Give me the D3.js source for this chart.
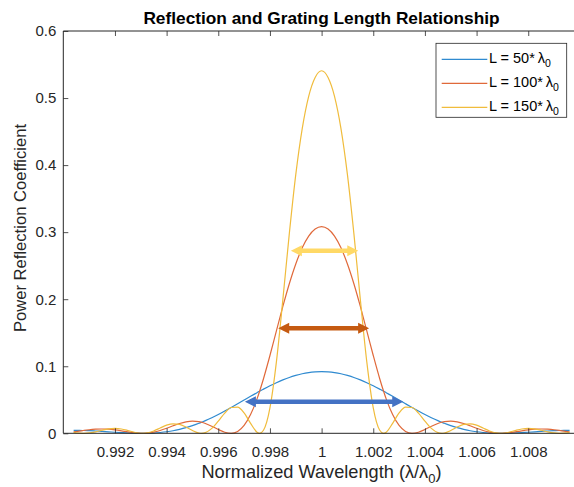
<!DOCTYPE html>
<html><head><meta charset="utf-8">
<script src="https://cdn.jsdelivr.net/npm/d3@7"></script>
<style>
body{margin:0;background:#fff}
text{font-family:"Liberation Sans",Arial,Helvetica,sans-serif;}
</style>
</head><body><svg id="c" width="574" height="487"></svg>
<script>
// ---------- data ----------
const wavelength = [0.9904,0.9905,0.99075,0.9908,0.991,0.99125,0.9915,0.99175,0.992,0.99225,0.9925,0.99275,0.993,0.9931,0.99325,0.9935,0.99375,0.994,0.99425,0.9945,0.99475,0.995,0.99525,0.99535,0.9955,0.99575,0.996,0.99625,0.9965,0.99675,0.997,0.99725,0.9975,0.9976,0.99775,0.998,0.99825,0.9985,0.99875,0.999,0.99925,0.9995,0.99975,1,
1.00025,1.0005,1.00075,1.001,1.00125,1.0015,1.00175,1.002,1.00225,1.0024,1.0025,1.00275,1.003,1.00325,1.0035,1.00375,1.004,1.00425,1.0045,1.00465,1.00475,1.005,1.00525,1.0055,1.00575,1.006,1.00625,1.0065,1.00675,1.0069,1.007,1.00725,1.0075,1.00775,1.008,1.00825,1.0085,1.00875,1.009,1.0092,1.00925,1.0095,1.0096];

const r50 = [0.0045,0.0045,0.0042,0.0042,0.0039,0.0034,0.0028,0.0022,0.0016,0.0011,0.0006,0.0002,0.0000,0.0000,0.0001,0.0004,0.0012,0.0023,0.0038,0.0059,0.0084,0.0114,0.0149,0.0165,0.0189,0.0233,0.0281,0.0332,0.0385,0.0440,0.0496,0.0552,0.0606,0.0628,0.0659,0.0709,0.0755,0.0796,0.0833,0.0863,0.0888,0.0905,0.0915,0.0919,
0.0915,0.0905,0.0888,0.0863,0.0833,0.0796,0.0755,0.0709,0.0659,0.0628,0.0606,0.0552,0.0496,0.0440,0.0385,0.0332,0.0281,0.0233,0.0189,0.0165,0.0149,0.0114,0.0084,0.0059,0.0038,0.0023,0.0012,0.0004,0.0001,0.0000,0.0000,0.0002,0.0006,0.0011,0.0016,0.0022,0.0028,0.0034,0.0039,0.0042,0.0042,0.0045,0.0045];

const r100 = [0.0021,0.0027,0.0040,0.0043,0.0053,0.0061,0.0064,0.0061,0.0051,0.0037,0.0021,0.0008,0.0000,0.0000,0.0003,0.0017,0.0042,0.0075,0.0112,0.0146,0.0171,0.0182,0.0174,0.0165,0.0147,0.0105,0.0057,0.0016,0.0000,0.0028,0.0117,0.0279,0.0514,0.0627,0.0814,0.1160,0.1527,0.1892,0.2231,0.2526,0.2766,0.2941,0.3047,0.3083,
0.3047,0.2941,0.2766,0.2526,0.2231,0.1892,0.1527,0.1160,0.0814,0.0627,0.0514,0.0279,0.0117,0.0028,0.0000,0.0016,0.0057,0.0105,0.0147,0.0165,0.0174,0.0182,0.0171,0.0146,0.0112,0.0075,0.0042,0.0017,0.0003,0.0000,0.0000,0.0008,0.0021,0.0037,0.0051,0.0061,0.0064,0.0061,0.0053,0.0043,0.0040,0.0027,0.0021];

const r150 = [0.0013,0.0007,0.0000,0.0000,0.0005,0.0022,0.0046,0.0066,0.0073,0.0064,0.0042,0.0016,0.0001,0.0000,0.0006,0.0035,0.0079,0.0121,0.0142,0.0133,0.0094,0.0042,0.0004,0.0000,0.0010,0.0073,0.0183,0.0302,0.0385,0.0391,0.0303,0.0149,0.0017,0.0000,0.0046,0.0380,0.1065,0.1993,0.2978,0.3858,0.4545,0.5026,0.5307,0.5407,
0.5307,0.5026,0.4545,0.3858,0.2978,0.1993,0.1065,0.0380,0.0046,0.0000,0.0017,0.0149,0.0303,0.0391,0.0385,0.0302,0.0183,0.0073,0.0010,0.0000,0.0004,0.0042,0.0094,0.0133,0.0142,0.0121,0.0079,0.0035,0.0006,0.0000,0.0001,0.0016,0.0042,0.0064,0.0073,0.0066,0.0046,0.0022,0.0005,0.0000,0.0000,0.0007,0.0013];

const seriesLengths = ["50", "100", "150"];
const xTicks = [0.992, 0.994, 0.996, 0.998, 1, 1.002, 1.004, 1.006, 1.008];
const xTickLabels = ["0.992","0.994","0.996","0.998","1","1.002","1.004","1.006","1.008"];
const yTicks = [0, 0.1, 0.2, 0.3, 0.4, 0.5, 0.6];
const yTickLabels = ["0","0.1","0.2","0.3","0.4","0.5","0.6"];

// FWHM annotation arrows (data coords)
const arrowLevel = [0.2723, 0.1566, 0.0471];
const arrowStart = [0.99881, 0.99832, 0.99703];
const arrowEnd   = [1.00142, 1.00184, 1.00316];

// ---------- styles ----------
const lineColors = ["#2F8AD0", "#E0693A", "#F0BC3C"];
const arrowColors = ["#FFD966", "#C55A11", "#4472C4"];
const axisColor = "#262626";

const svg = d3.select("#c");
const L = 63.3, R = 579.9, T = 31, B = 433.3;
const x = d3.scaleLinear().domain([0.99, 1.01]).range([L, R]);
const y = d3.scaleLinear().domain([0, 0.6]).range([B, T]);

// curves
const series = [r50, r100, r150];
const line = d3.line().x(d => x(d[0])).y(d => y(d[1])).curve(d3.curveMonotoneX);
series.forEach((s, i) => {
  svg.append("path")
    .datum(wavelength.map((w, j) => [w, s[j]]))
    .attr("d", line)
    .attr("fill", "none")
    .attr("stroke", lineColors[i])
    .attr("stroke-width", 1.2);
});

// axes
const gx = svg.append("g").attr("transform", `translate(0,${B})`)
  .call(d3.axisBottom(x).tickValues(xTicks).tickFormat((d, i) => xTickLabels[i]).tickSizeInner(-5).tickSizeOuter(0).tickPadding(13));
const gxt = svg.append("g").attr("transform", `translate(0,${T})`)
  .call(d3.axisTop(x).tickValues(xTicks).tickFormat("").tickSizeInner(-5).tickSizeOuter(0));
const gy = svg.append("g").attr("transform", `translate(${L},0)`)
  .call(d3.axisLeft(y).tickValues(yTicks).tickFormat((d, i) => yTickLabels[i]).tickSizeInner(-5).tickSizeOuter(0).tickPadding(7));
[gx, gxt, gy].forEach(g => {
  g.select(".domain").remove();
  g.selectAll(".tick line").attr("stroke", axisColor).attr("stroke-width", 0.8);
  g.selectAll(".tick text").attr("fill", axisColor).attr("font-size", 15)
    .style("font-family", '"Liberation Sans",Arial,sans-serif');
});
// box
svg.append("path")
  .attr("d", `M${L},${B}H${R}M${L},${B}V${T}H${R}`)
  .attr("fill", "none").attr("stroke", axisColor).attr("stroke-width", 1);

// arrows
arrowLevel.forEach((lv, i) => {
  const x0 = x(arrowStart[i]), x1 = x(arrowEnd[i]), yy = y(lv);
  const hl = 11, hw = 5.5, sw = 2.2;
  const p = `M${x0},${yy} L${x0 + hl},${yy - hw} L${x0 + hl},${yy - sw} L${x1 - hl},${yy - sw} L${x1 - hl},${yy - hw} L${x1},${yy} L${x1 - hl},${yy + hw} L${x1 - hl},${yy + sw} L${x0 + hl},${yy + sw} L${x0 + hl},${yy + hw} Z`;
  svg.append("path").attr("d", p).attr("fill", arrowColors[i]);
});

// title
svg.append("text").attr("x", 321.5).attr("y", 24).attr("text-anchor", "middle")
  .attr("font-weight", "bold").attr("font-size", 17.3).attr("fill", "#000")
  .text("Reflection and Grating Length Relationship");

// x label
const xl = svg.append("text").attr("x", 321.5).attr("y", 478).attr("text-anchor", "middle")
  .attr("font-size", 18.2).attr("fill", axisColor);
xl.append("tspan").text("Normalized Wavelength (λ/λ");
xl.append("tspan").attr("font-size", 13).attr("dy", 5).text("0");
xl.append("tspan").attr("dy", -5).text(")");

// y label
svg.append("text").attr("transform", "translate(26,228) rotate(-90)").attr("text-anchor", "middle")
  .attr("font-size", 16.6).attr("fill", axisColor)
  .text("Power Reflection Coefficient");

// legend
const lg = svg.append("g");
lg.append("rect").attr("x", 436).attr("y", 43.3).attr("width", 130.7).attr("height", 74)
  .attr("fill", "#fff").attr("stroke", axisColor).attr("stroke-width", 0.8);
seriesLengths.forEach((n, i) => {
  const yy = 59.3 + i * 24;
  lg.append("line").attr("x1", 441.7).attr("x2", 487.3).attr("y1", yy).attr("y2", yy)
    .attr("stroke", lineColors[i]).attr("stroke-width", 1.2);
  const t = lg.append("text").attr("x", 489).attr("y", yy + 4).attr("font-size", 14.5).attr("fill", "#000");
  t.append("tspan").text(`L = ${n}*\u2009λ`);
  t.append("tspan").attr("font-size", 10.5).attr("dy", 4).text("0");
});
</script></body></html>
